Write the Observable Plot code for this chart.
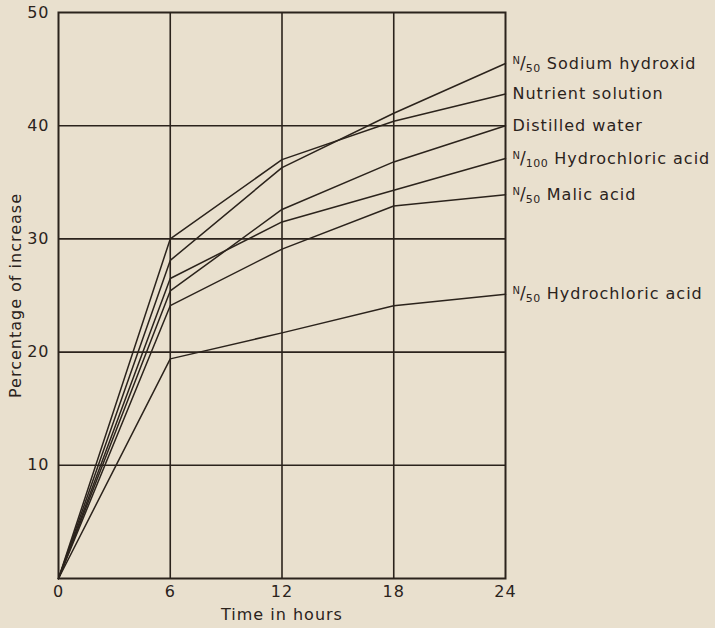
<!DOCTYPE html>
<html>
<head>
<meta charset="utf-8">
<script src="https://cdn.jsdelivr.net/npm/d3@7"></script>
<script src="https://cdn.jsdelivr.net/npm/@observablehq/plot@0.6"></script>
<style>
  html, body { margin: 0; padding: 0; background: #e9e0ce; }
  #chart { width: 715px; height: 628px; }
  #chart svg text { font-family: "DejaVu Sans", sans-serif; letter-spacing: 1px; }
</style>
</head>
<body>
<div id="chart"></div>
<script>
const hours = [0, 6, 12, 18, 24];
const seriesNames = [
  "N/50 Sodium hydroxid",
  "Nutrient solution",
  "Distilled water",
  "N/100 Hydrochloric acid",
  "N/50 Malic acid",
  "N/50 Hydrochloric acid"
];
const sodiumHydroxid = [0, 28.1, 36.3, 41.1, 45.5];
const nutrientSolution = [0, 30.0, 37.0, 40.4, 42.8];
const distilledWater = [0, 25.4, 32.6, 36.8, 40.0];
const hcl100 = [0, 26.5, 31.5, 34.3, 37.1];
const malicAcid = [0, 24.1, 29.1, 32.9, 33.9];
const hcl50 = [0, 19.4, 21.7, 24.1, 25.1];
const xTicks = [0, 6, 12, 18, 24];
const yTicks = [10, 20, 30, 40, 50];

const seriesValues = [sodiumHydroxid, nutrientSolution, distilledWater, hcl100, malicAcid, hcl50];
const rows = seriesValues.flatMap((vals, s) =>
  vals.map((v, i) => ({series: seriesNames[s], hour: hours[i], value: v}))
);
const ends = seriesValues.map((vals, s) => ({series: seriesNames[s], hour: hours[hours.length - 1], value: vals[vals.length - 1]}));

const ink = "#2b231c";

const chart = Plot.plot({
  width: 715,
  height: 628,
  marginLeft: 58,
  marginRight: 210,
  marginTop: 12,
  marginBottom: 50,
  style: {background: "#e9e0ce", color: ink, fontFamily: "DejaVu Sans", fontSize: "16px", overflow: "visible"},
  x: {domain: [0, 24]},
  y: {domain: [0, 50]},
  marks: [
    Plot.gridX(xTicks.slice(1, -1), {stroke: ink, strokeOpacity: 1, strokeWidth: 1.6}),
    Plot.gridY(yTicks.slice(0, -1), {stroke: ink, strokeOpacity: 1, strokeWidth: 1.6}),
    Plot.frame({stroke: ink, strokeWidth: 2}),
    Plot.axisX(xTicks, {tickSize: 0, tickPadding: 7, fontSize: 16, label: "Time in hours", labelAnchor: "center", labelArrow: "none", labelOffset: 41, fill: ink}),
    Plot.axisY(yTicks, {tickSize: 0, tickPadding: 9, fontSize: 16, label: "Percentage of increase", labelAnchor: "center", labelArrow: "none", labelOffset: 49, fill: ink}),
    Plot.line(rows, {x: "hour", y: "value", z: "series", stroke: ink, strokeWidth: 1.5}),
    Plot.text(ends, {x: "hour", y: "value", text: "series", textAnchor: "start", dx: 7, fill: ink, fontSize: 16})
  ]
});

// Render "N/50" style notation with superscript N and subscript number
d3.select(chart).selectAll("text").each(function () {
  const t = this.textContent;
  const m = /^N\/(\d+) (.*)$/.exec(t);
  if (!m || this.children.length) return;
  const el = d3.select(this);
  el.text(null);
  el.append("tspan").attr("font-size", 10).attr("dy", -5).style("letter-spacing", "0px").text("N");
  el.append("tspan").attr("font-size", 17).attr("dy", 5).style("letter-spacing", "0px").text("/");
  el.append("tspan").attr("font-size", 11).attr("dy", 3).style("letter-spacing", "0.5px").text(m[1]);
  el.append("tspan").attr("dy", -3).text(" " + m[2]);
});

document.getElementById("chart").appendChild(chart);
</script>
</body>
</html>
